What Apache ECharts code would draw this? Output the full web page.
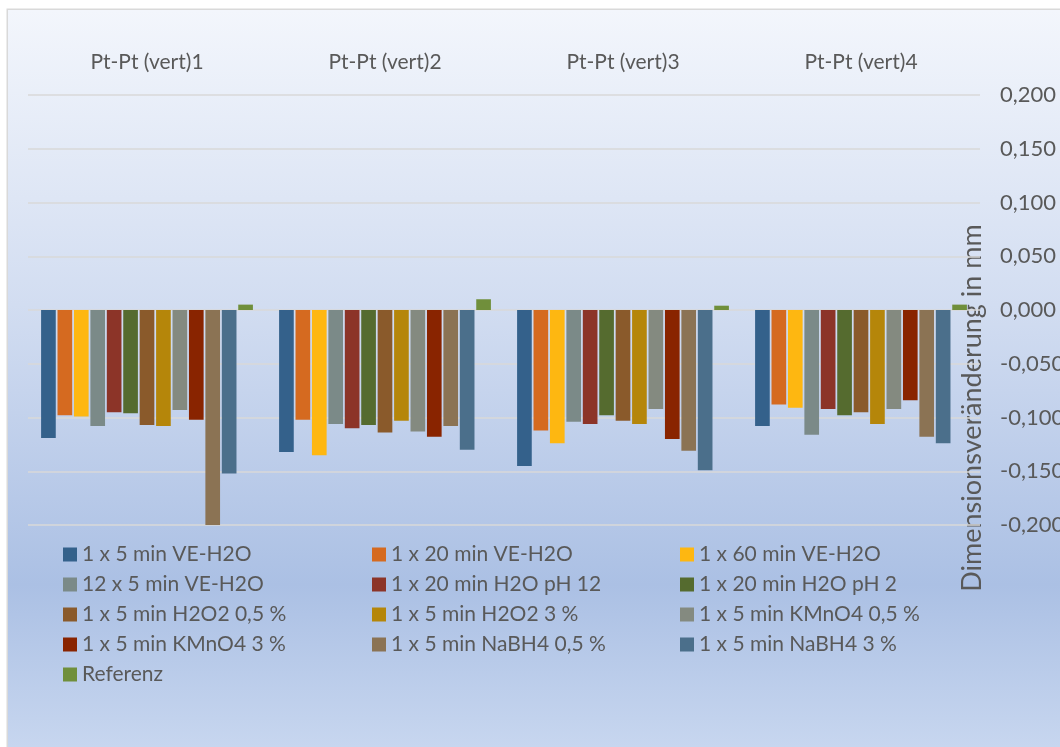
<!DOCTYPE html>
<html>
<head>
<meta charset="utf-8">
<script src="https://cdn.jsdelivr.net/npm/echarts@6/dist/echarts.min.js"></script>
<style>
  html, body { margin: 0; padding: 0; background: #fff; }
  #chart {
    position: absolute; left: 8px; top: 10px;
    width: 1052px; height: 737px;
    box-shadow: 0 0 0 1.5px #d9d9d9;
    background: linear-gradient(to bottom, #f3f6fc 0%, #d2ddf1 40%, #abc0e4 78%, #c7d6ef 100%);
  }
</style>
</head>
<body>
<div id="chart"></div>
<script>
// Kategorien (oben) und Achsenbeschriftung
var categories = ['Pt-Pt (vert)1', 'Pt-Pt (vert)2', 'Pt-Pt (vert)3', 'Pt-Pt (vert)4'];
var axisTitle = 'Dimensionsveränderung in mm';

// Messwerte je Behandlung, in mm
var ve5        = [-0.119, -0.132, -0.145, -0.108];
var ve20       = [-0.098, -0.102, -0.112, -0.088];
var ve60       = [-0.099, -0.135, -0.124, -0.091];
var ve12x5     = [-0.108, -0.106, -0.104, -0.116];
var ph12       = [-0.095, -0.110, -0.106, -0.092];
var ph2        = [-0.096, -0.107, -0.098, -0.098];
var h2o2_05    = [-0.107, -0.114, -0.103, -0.095];
var h2o2_3     = [-0.108, -0.103, -0.106, -0.106];
var kmno4_05   = [-0.093, -0.113, -0.092, -0.092];
var kmno4_3    = [-0.102, -0.118, -0.120, -0.084];
var nabh4_05   = [-0.202, -0.108, -0.131, -0.118];
var nabh4_3    = [-0.152, -0.130, -0.149, -0.124];
var referenz   = [0.005, 0.010, 0.004, 0.005];

var seriesNames = [
    '1 x 5 min VE-H2O', '1 x 20 min VE-H2O', '1 x 60 min VE-H2O',
    '12 x 5 min VE-H2O', '1 x 20 min H2O pH 12', '1 x 20 min H2O pH 2',
    '1 x 5 min H2O2 0,5 %', '1 x 5 min H2O2 3 %', '1 x 5 min KMnO4 0,5 %',
    '1 x 5 min KMnO4 3 %', '1 x 5 min NaBH4 0,5 %', '1 x 5 min NaBH4 3 %',
    'Referenz'
];
var seriesData = [ve5, ve20, ve60, ve12x5, ph12, ph2, h2o2_05, h2o2_3,
                  kmno4_05, kmno4_3, nabh4_05, nabh4_3, referenz];
var colors = ['#34618b', '#d56a20', '#feb711', '#7b8a88', '#8c3428', '#556b2f',
              '#8a5a2b', '#b5860a', '#848a80', '#892400', '#8b7354', '#4b6f8b', '#708f3b'];

var chart = echarts.init(document.getElementById('chart'));

var series = seriesNames.map(function (n, i) {
    return {
        name: n,
        type: 'bar',
        data: seriesData[i],
        barGap: '12%',
        barCategoryGap: '11%',
        itemStyle: { color: colors[i] }
    };
});

// Legende in drei Spalten wie im Original
function legendCol(idx, left) {
    return {
        orient: 'vertical',
        left: left,
        top: 529,
        itemWidth: 14,
        itemHeight: 14,
        itemGap: 9,
        icon: 'rect',
        data: idx.map(function (k) { return seriesNames[k]; }),
        textStyle: { color: '#595959', fontSize: 21, fontFamily: 'Lato', lineHeight: 20 }
    };
}

var option = {
    color: colors,
    textStyle: { fontFamily: 'Lato' },
    animation: false,
    grid: { left: 20, right: 80, top: 85, bottom: 222, outerBoundsMode: 'none' },
    legend: [
        legendCol([0, 3, 6, 9, 12], 50),
        legendCol([1, 4, 7, 10], 359),
        legendCol([2, 5, 8, 11], 667)
    ],
    xAxis: {
        type: 'category',
        position: 'top',
        data: categories,
        axisLine: { show: false },
        axisTick: { show: false },
        axisLabel: { color: '#595959', fontSize: 21, margin: 22 }
    },
    yAxis: {
        type: 'value',
        position: 'right',
        min: -0.2,
        max: 0.2,
        interval: 0.05,
        axisLine: { show: false },
        axisTick: { show: false },
        splitLine: { lineStyle: { color: '#d9d9d9', width: 1.5 } },
        axisLabel: {
            color: '#595959', fontSize: 22, margin: 20, align: 'left',
            formatter: function (v) { return v.toFixed(3).replace('.', ','); }
        }
    },
    graphic: [{
        type: 'text',
        x: 964,
        y: 398,
        rotation: Math.PI / 2,
        style: {
            text: axisTitle, fill: '#595959', fontSize: 27, fontFamily: 'Lato',
            align: 'center', verticalAlign: 'middle'
        }
    }],
    series: series
};
chart.setOption(option);
</script>
</body>
</html>
